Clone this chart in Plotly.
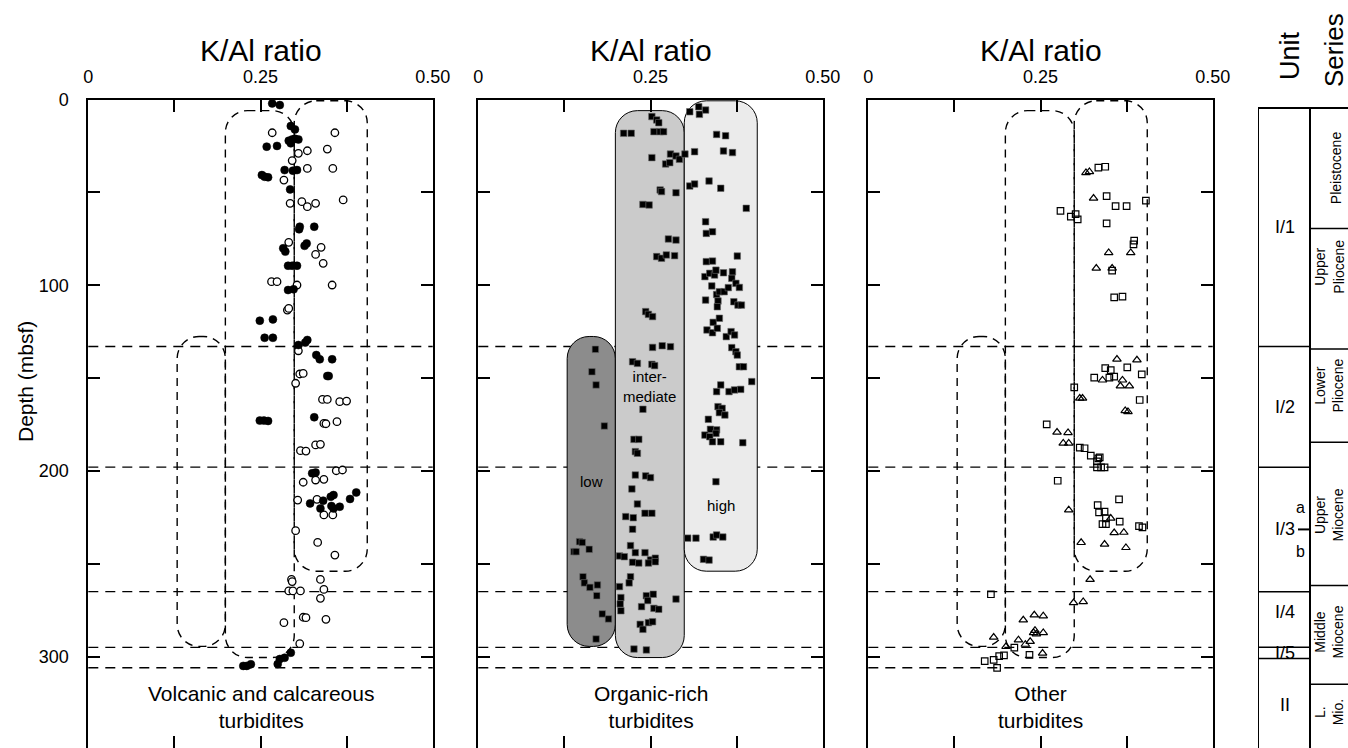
import plotly.graph_objects as go

# ---------------- data ----------------
# Volcanic and calcareous turbidites: K/Al ratio and depth (mbsf)
volc_dark_kal = [0.267, 0.278, 0.294, 0.300, 0.259, 0.274, 0.291, 0.296, 0.300, 0.305, 0.294,
                 0.252, 0.256, 0.261, 0.285, 0.297, 0.303, 0.293, 0.307, 0.306, 0.328, 0.283,
                 0.286, 0.317, 0.314, 0.290, 0.296, 0.303, 0.290, 0.298, 0.249, 0.268, 0.256,
                 0.268, 0.318, 0.315, 0.305, 0.331, 0.336, 0.354, 0.347, 0.349, 0.249, 0.255,
                 0.261, 0.328, 0.325, 0.330, 0.322, 0.337, 0.341, 0.352, 0.356, 0.353, 0.356,
                 0.365, 0.380, 0.389, 0.294, 0.285, 0.278, 0.275, 0.225, 0.230, 0.236]
volc_dark_depth = [2.1, 3.0, 14.3, 16.1, 25.4, 25.0, 22.2, 21.5, 21.1, 21.5, 23.6,
                   40.7, 41.6, 41.9, 38.0, 38.3, 38.0, 48.4, 68.5, 69.9, 68.5, 80.1,
                   81.9, 77.5, 78.8, 89.5, 89.5, 89.5, 102.6, 102.2, 119.1, 118.4, 128.3,
                   128.3, 129.5, 130.9, 132.2, 137.6, 139.9, 139.9, 148.9, 148.9, 172.9, 172.9,
                   173.1, 171.1, 201.3, 200.9, 217.5, 220.2, 216.0, 213.9, 213.0, 218.9, 220.2,
                   219.3, 215.1, 211.6, 297.9, 300.6, 301.3, 304.0, 305.0, 305.0, 304.1]

volc_light_kal = [0.267, 0.358, 0.318, 0.347, 0.305, 0.296, 0.318, 0.355, 0.284, 0.370, 0.293,
                  0.310, 0.318, 0.330, 0.291, 0.338, 0.330, 0.341, 0.266, 0.274, 0.303, 0.354,
                  0.289, 0.291, 0.305, 0.307, 0.312, 0.301, 0.340, 0.347, 0.365, 0.375, 0.361,
                  0.342, 0.345, 0.308, 0.316, 0.330, 0.337, 0.360, 0.369, 0.312, 0.330, 0.342,
                  0.304, 0.332, 0.342, 0.355, 0.301, 0.333, 0.358, 0.295, 0.296, 0.291, 0.297,
                  0.308, 0.337, 0.342, 0.337, 0.284, 0.312, 0.316, 0.345, 0.307]
volc_light_depth = [17.9, 17.9, 27.6, 26.7, 29.0, 32.9, 37.1, 37.1, 43.4, 54.1, 55.9,
                    55.0, 57.7, 55.9, 76.9, 79.6, 83.4, 88.2, 98.1, 98.1, 99.9, 99.9,
                    113.4, 112.5, 135.3, 147.8, 147.5, 152.8, 161.5, 161.5, 162.7, 162.4, 173.5,
                    174.4, 174.6, 189.1, 189.3, 186.0, 185.7, 199.9, 199.5, 206.1, 204.9, 204.5,
                    215.7, 215.3, 223.7, 223.7, 232.2, 238.5, 245.3, 258.4, 259.6, 264.6, 264.6,
                    264.6, 258.4, 263.8, 268.6, 281.7, 278.8, 279.0, 279.9, 293.0]

# Organic-rich turbidites
org_kal = [0.252, 0.259, 0.262, 0.307, 0.320, 0.330, 0.321, 0.211, 0.222, 0.255, 0.264, 0.269,
           0.346, 0.359, 0.252, 0.279, 0.287, 0.272, 0.278, 0.292, 0.300, 0.314, 0.356, 0.369,
           0.264, 0.266, 0.287, 0.307, 0.314, 0.335, 0.352, 0.239, 0.248, 0.389, 0.330, 0.331,
           0.340, 0.276, 0.287, 0.259, 0.266, 0.273, 0.285, 0.376, 0.331, 0.340, 0.329, 0.336,
           0.343, 0.345, 0.356, 0.369, 0.368, 0.374, 0.379, 0.339, 0.346, 0.350, 0.357, 0.363,
           0.330, 0.348, 0.347, 0.371, 0.377, 0.382, 0.243, 0.247, 0.253, 0.341, 0.350, 0.332,
           0.340, 0.347, 0.360, 0.367, 0.372, 0.253, 0.267, 0.279, 0.368, 0.374, 0.376, 0.379,
           0.385, 0.170, 0.224, 0.231, 0.252, 0.256, 0.165, 0.171, 0.346, 0.352, 0.364, 0.372,
           0.381, 0.397, 0.239, 0.183, 0.226, 0.233, 0.228, 0.231, 0.348, 0.354, 0.350, 0.358,
           0.334, 0.346, 0.337, 0.345, 0.329, 0.336, 0.340, 0.352, 0.384, 0.228, 0.243, 0.250,
           0.223, 0.345, 0.231, 0.214, 0.225, 0.242, 0.252, 0.224, 0.221, 0.228, 0.242, 0.250,
           0.257, 0.257, 0.224, 0.233, 0.247, 0.205, 0.212, 0.147, 0.151, 0.139, 0.142, 0.161,
           0.304, 0.316, 0.341, 0.346, 0.355, 0.327, 0.335, 0.152, 0.154, 0.162, 0.173, 0.172,
           0.221, 0.219, 0.205, 0.207, 0.206, 0.207, 0.244, 0.254, 0.246, 0.237, 0.255, 0.262,
           0.287, 0.180, 0.189, 0.235, 0.239, 0.247, 0.253, 0.171, 0.226, 0.244]
org_depth = [9.2, 11.0, 12.5, 6.6, 3.9, 5.7, 8.0, 18.2, 18.2, 17.3, 17.3, 17.3,
             18.8, 19.5, 31.3, 29.4, 30.4, 34.7, 34.0, 32.2, 29.4, 28.1, 27.7, 28.6,
             48.7, 49.6, 50.2, 46.6, 45.5, 43.9, 47.8, 56.5, 56.8, 58.6, 65.8, 72.1,
             71.2, 75.1, 75.7, 84.6, 85.5, 83.7, 84.1, 84.3, 87.3, 87.0, 95.4, 93.6,
             94.5, 91.9, 93.3, 92.8, 96.3, 99.0, 101.2, 100.4, 105.0, 103.5, 103.5, 101.3,
             108.0, 108.5, 111.6, 108.9, 110.7, 110.7, 114.2, 115.7, 116.9, 120.0, 117.8, 124.1,
             125.6, 123.2, 127.7, 125.0, 126.8, 133.5, 132.6, 133.1, 133.6, 135.8, 137.6, 143.9,
             143.9, 134.5, 141.2, 142.1, 142.6, 143.3, 146.6, 153.7, 157.3, 153.7, 157.3, 156.4,
             156.1, 151.9, 166.8, 175.8, 183.0, 183.0, 189.6, 190.5, 165.4, 166.3, 168.6, 169.9,
             172.2, 177.9, 177.6, 179.8, 180.7, 181.6, 184.3, 184.3, 184.8, 202.2, 202.7, 203.6,
             209.7, 205.8, 217.8, 224.6, 225.2, 222.8, 222.8, 231.4, 240.2, 244.0, 244.0, 247.9,
             247.0, 248.9, 249.2, 249.6, 249.6, 245.8, 246.2, 238.1, 238.5, 243.5, 243.5, 242.2,
             236.2, 236.2, 235.6, 234.5, 235.6, 247.6, 248.0, 257.0, 260.3, 262.7, 261.4, 267.2,
             257.0, 260.3, 262.3, 268.2, 271.6, 275.3, 267.2, 266.4, 269.8, 273.1, 274.0, 274.5,
             269.0, 277.0, 279.7, 282.6, 285.3, 281.7, 281.2, 290.5, 295.9, 296.4]

# Other turbidites (two sample types)
other_sq_kal = [0.334, 0.344, 0.346, 0.359, 0.375, 0.403, 0.279, 0.294, 0.301, 0.304, 0.346,
                0.386, 0.385, 0.354, 0.357, 0.369, 0.376, 0.344, 0.352, 0.357, 0.328, 0.350,
                0.397, 0.299, 0.394, 0.259, 0.307, 0.314, 0.323, 0.334, 0.336, 0.332, 0.332,
                0.338, 0.343, 0.275, 0.364, 0.333, 0.335, 0.343, 0.345, 0.340, 0.345, 0.365,
                0.393, 0.398, 0.178, 0.212, 0.234, 0.190, 0.197, 0.182, 0.169, 0.187]
other_sq_depth = [36.7, 36.2, 52.0, 57.4, 57.4, 54.5, 60.0, 63.1, 61.7, 64.5, 66.7,
                  76.0, 78.0, 92.1, 106.5, 106.2, 144.2, 144.7, 145.7, 149.2, 149.8, 149.8,
                  148.0, 155.0, 161.8, 174.9, 187.5, 187.8, 191.8, 193.2, 192.7, 194.9, 198.1,
                  198.1, 198.1, 205.3, 215.3, 218.4, 222.3, 221.9, 225.6, 228.6, 228.6, 227.3,
                  229.7, 230.4, 266.4, 295.2, 299.1, 299.7, 299.3, 301.8, 302.4, 306.1]
other_tri_kal = [0.316, 0.321, 0.327, 0.349, 0.381, 0.331, 0.354, 0.361, 0.390, 0.340, 0.369,
                 0.366, 0.379, 0.307, 0.311, 0.373, 0.377, 0.274, 0.290, 0.283, 0.291, 0.291,
                 0.352, 0.357, 0.371, 0.309, 0.343, 0.374, 0.322, 0.298, 0.312, 0.225, 0.241,
                 0.254, 0.242, 0.244, 0.254, 0.240, 0.218, 0.228, 0.235, 0.182, 0.200, 0.253]
other_tri_depth = [39.4, 38.9, 53.2, 82.5, 82.5, 90.9, 90.9, 139.9, 140.3, 151.1, 151.1,
                   154.3, 154.3, 160.9, 160.9, 167.6, 168.1, 179.2, 179.4, 185.1, 185.1, 221.0,
                   225.5, 233.3, 233.1, 238.6, 239.5, 241.3, 258.5, 271.0, 270.4, 280.3, 277.6,
                   278.1, 285.9, 287.8, 287.1, 287.1, 291.0, 293.4, 291.9, 289.6, 294.6, 298.2]

# K/Al groupings: [K/Al from, K/Al to, depth top, depth bottom]
group_low = [0.129, 0.199, 127.6, 294.5]
group_intermediate = [0.199, 0.299, 6.0, 300.5]
group_high = [0.299, 0.405, 0.7, 254.0]

# Lithostratigraphic boundaries (mbsf)
boundary_depths = [133, 198, 265, 295, 306]
unit_top = 4.6
unit_edges = [133, 198, 265, 295, 301]
unit_names = ["I/1", "I/2", "I/3", "I/4", "I/5", "II"]
unit_label_depths = [68.8, 165.5, 231.5, 276.0, 298.0, 326.0]
subunit_split = 231.5
series_edges = [69.5, 134.4, 184.6, 261.7, 314.9]
series_names = ["Pleistocene", "Upper<br>Pliocene", "Lower<br>Pliocene",
                "Upper<br>Miocene", "Middle<br>Miocene", "L.<br>Mio."]
series_label_depths = [37, 90, 154, 224, 287, 330]

panel_titles = ["K/Al ratio", "K/Al ratio", "K/Al ratio"]
panel_captions = ["Volcanic and calcareous<br>turbidites",
                  "Organic-rich<br>turbidites",
                  "Other<br>turbidites"]

kal_ticks = [0, 0.125, 0.25, 0.375, 0.5]
kal_ticktext = ["0", "", "0.25", "", "0.50"]
depth_ticks = [0, 50, 100, 150, 200, 250, 300, 350]
depth_ticktext = ["0", "", "100", "", "200", "", "300", ""]

# ---------------- layout geometry ----------------
W, H = 1348, 748
FONT = "Liberation Sans, Arial, Helvetica, sans-serif"
PLOT_TOP = 99.5
DEPTH_RANGE = [349.2, 0]
KAL_RANGE = [0, 0.5]
PANEL_LEFT = [88.3, 478.3, 868.3]
PANEL_W = 344.4
COL_LEFT = 1258


def fx(px):
    return px / W


def fy(py):
    return 1 - py / H


y_dom = [0, fy(PLOT_TOP)]
px_per_kal = PANEL_W / (KAL_RANGE[1] - KAL_RANGE[0])
px_per_m = (H - PLOT_TOP) / (DEPTH_RANGE[0] - DEPTH_RANGE[1])


def rounded_path(x0, x1, y0, y1, r_px=22):
    """Rounded rectangle in data units (x: K/Al, y: depth)."""
    r_px = min(r_px, (x1 - x0) * px_per_kal / 2)
    rx = r_px / px_per_kal
    ry = r_px / px_per_m
    k = 0.5523
    p = [f"M {x0 + rx},{y0}", f"L {x1 - rx},{y0}",
         f"C {x1 - rx + k * rx},{y0} {x1},{y0 + ry - k * ry} {x1},{y0 + ry}",
         f"L {x1},{y1 - ry}",
         f"C {x1},{y1 - ry + k * ry} {x1 - rx + k * rx},{y1} {x1 - rx},{y1}",
         f"L {x0 + rx},{y1}",
         f"C {x0 + rx - k * rx},{y1} {x0},{y1 - ry + k * ry} {x0},{y1 - ry}",
         f"L {x0},{y0 + ry}",
         f"C {x0},{y0 + ry - k * ry} {x0 + rx - k * rx},{y0} {x0 + rx},{y0}", "Z"]
    return " ".join(p)


fig = go.Figure()
layout = dict(width=W, height=H,
              margin=dict(l=0, r=0, t=0, b=0, pad=0, autoexpand=False),
              paper_bgcolor="white", plot_bgcolor="white", showlegend=False,
              font=dict(family=FONT, color="black"))

shapes = []
annotations = []

for i in range(3):
    n = "" if i == 0 else str(i + 1)
    xname, yname = "x" + n, "y" + n
    bottom_id = str(i + 4)
    layout["xaxis" + n] = dict(
        domain=[fx(PANEL_LEFT[i]), fx(PANEL_LEFT[i] + PANEL_W)], range=KAL_RANGE,
        side="top", anchor=yname, tickmode="array", tickvals=kal_ticks,
        ticktext=kal_ticktext, ticks="inside", ticklen=12, tickwidth=2,
        tickcolor="black", showline=True, linewidth=2, linecolor="black",
        showgrid=False, zeroline=False, ticklabelstandoff=7, automargin=False,
        tickfont=dict(size=18, color="black", family=FONT))
    layout["xaxis" + bottom_id] = dict(
        overlaying=xname, anchor=yname, side="bottom", range=KAL_RANGE,
        tickmode="array", tickvals=kal_ticks[1:-1], ticks="inside", ticklen=12,
        tickwidth=2, tickcolor="black", showticklabels=False, showline=False,
        showgrid=False, zeroline=False, automargin=False)
    layout["yaxis" + n] = dict(
        domain=y_dom, range=DEPTH_RANGE, anchor=xname, tickmode="array",
        tickvals=depth_ticks, ticktext=depth_ticktext, ticks="inside", ticklen=12,
        tickwidth=2, tickcolor="black", showline=True, mirror="ticks", linewidth=2,
        linecolor="black", showgrid=False, zeroline=False, automargin=False,
        showticklabels=(i == 0), ticklabelstandoff=14,
        tickfont=dict(size=18, color="black", family=FONT))
    fig.add_trace(go.Scatter(x=[None], y=[None], xaxis="x" + bottom_id, yaxis=yname,
                             hoverinfo="skip"))

    def hline(d, layer="below"):
        return dict(type="line", xref=xname + " domain", yref=yname, x0=0, x1=1,
                    y0=d, y1=d, layer=layer,
                    line=dict(color="black", width=1.3, dash="10px,7px"))

    if i == 1:
        # deeper boundaries sit beneath the grouping fields
        for d in boundary_depths[2:]:
            shapes.append(hline(d))
        fills = ["#8c8c8c", "#cbcbcb", "#ebebeb"]
        for g, c in zip([group_low, group_intermediate, group_high], fills):
            shapes.append(dict(type="path", xref=xname, yref=yname, layer="below",
                               path=rounded_path(*g), fillcolor=c,
                               line=dict(color="black", width=1)))
        for d in boundary_depths[:2]:
            shapes.append(hline(d))
    else:
        for d in boundary_depths:
            shapes.append(hline(d))
        for g in [group_low, group_intermediate, group_high]:
            shapes.append(dict(type="path", xref=xname, yref=yname, layer="below",
                               path=rounded_path(*g), fillcolor="rgba(0,0,0,0)",
                               line=dict(color="black", width=1.4, dash="8px,6px")))

    # panel title and caption
    annotations.append(dict(text=panel_titles[i], xref=xname + " domain", x=0.5,
                            yref="paper", y=fy(51), xanchor="center", yanchor="middle",
                            showarrow=False, font=dict(size=30, family=FONT)))
    annotations.append(dict(text=panel_captions[i], xref=xname + " domain", x=0.5,
                            yref="paper", y=fy(707), xanchor="center", yanchor="middle",
                            showarrow=False, font=dict(size=21, family=FONT)))

# ---------------- markers ----------------
fig.add_trace(go.Scatter(x=volc_light_kal, y=volc_light_depth, mode="markers",
                         xaxis="x", yaxis="y",
                         marker=dict(symbol="circle", size=7.5, color="white",
                                     line=dict(color="black", width=1.3))))
fig.add_trace(go.Scatter(x=volc_dark_kal, y=volc_dark_depth, mode="markers",
                         xaxis="x", yaxis="y",
                         marker=dict(symbol="circle", size=8, color="black",
                                     line=dict(color="black", width=0.5))))
fig.add_trace(go.Scatter(x=org_kal, y=org_depth, mode="markers", xaxis="x2", yaxis="y2",
                         marker=dict(symbol="square", size=6.5, color="black",
                                     line=dict(color="#666666", width=0.6))))
fig.add_trace(go.Scatter(x=other_sq_kal, y=other_sq_depth, mode="markers",
                         xaxis="x3", yaxis="y3",
                         marker=dict(symbol="square-open", size=6.5, color="black",
                                     line=dict(color="black", width=1.2))))
fig.add_trace(go.Scatter(x=other_tri_kal, y=other_tri_depth, mode="markers",
                         xaxis="x3", yaxis="y3",
                         marker=dict(symbol="triangle-up-open", size=7.5, color="black",
                                     line=dict(color="black", width=1.2))))

# group names in the organic-rich panel
for txt, xv, py in [("inter-<br>mediate", 0.248, 387),
                    ("low", 0.164, 481), ("high", 0.352, 505)]:
    annotations.append(dict(text=txt, xref="x2", x=xv, yref="paper", y=fy(py),
                            xanchor="center", yanchor="middle", showarrow=False,
                            font=dict(size=15, family=FONT)))

# depth axis title
annotations.append(dict(text="Depth (mbsf)", xref="paper", x=fx(25), yref="paper",
                        y=fy(382), textangle=-90, xanchor="center", yanchor="middle",
                        showarrow=False, font=dict(size=21, family=FONT)))

# ---------------- unit / series column ----------------
layout["xaxis7"] = dict(domain=[fx(COL_LEFT), 1], range=[0, W - COL_LEFT], anchor="y4",
                        visible=False, showgrid=False, zeroline=False, automargin=False)
layout["yaxis4"] = dict(domain=y_dom, range=DEPTH_RANGE, anchor="x7", visible=False,
                        showgrid=False, zeroline=False, automargin=False)
fig.add_trace(go.Scatter(x=[None], y=[None], xaxis="x7", yaxis="y4", hoverinfo="skip"))

DIV = 52
col_line = dict(color="black", width=2)
shapes += [
    dict(type="line", xref="x7", yref="y4", x0=0, x1=0, y0=unit_top, y1=400, line=col_line),
    dict(type="line", xref="x7", yref="y4", x0=DIV, x1=DIV, y0=unit_top, y1=400, line=col_line),
    dict(type="line", xref="x7", yref="y4", x0=0, x1=200, y0=unit_top, y1=unit_top,
         line=col_line),
    dict(type="line", xref="x7", yref="y4", x0=DIV - 12, x1=DIV, y0=subunit_split,
         y1=subunit_split, line=col_line),
]
for d in unit_edges:
    shapes.append(dict(type="line", xref="x7", yref="y4", x0=0, x1=DIV, y0=d, y1=d,
                       line=dict(color="black", width=1.5)))
for d in series_edges:
    shapes.append(dict(type="line", xref="x7", yref="y4", x0=DIV, x1=200, y0=d, y1=d,
                       line=dict(color="black", width=1.5)))

for name, d in zip(unit_names, unit_label_depths):
    annotations.append(dict(text=name, xref="x7", x=27, yref="y4", y=d,
                            xanchor="center", yanchor="middle", showarrow=False,
                            font=dict(size=18, family=FONT)))
annotations.append(dict(text="a", xref="x7", x=42, yref="y4", y=subunit_split - 12,
                        xanchor="center", yanchor="middle", showarrow=False,
                        font=dict(size=16, family=FONT)))
annotations.append(dict(text="b", xref="x7", x=42, yref="y4", y=subunit_split + 12,
                        xanchor="center", yanchor="middle", showarrow=False,
                        font=dict(size=16, family=FONT)))
for name, d in zip(series_names, series_label_depths):
    xs = 71 if "<br>" in name else 78
    annotations.append(dict(text=name, xref="x7", x=xs, yref="y4", y=d, textangle=-90,
                            xanchor="center", yanchor="middle", showarrow=False,
                            font=dict(size=14, family=FONT)))

annotations.append(dict(text="Unit", xref="x7", x=32, yref="paper", y=fy(56),
                        textangle=-90, xanchor="center", yanchor="middle",
                        showarrow=False, font=dict(size=27, family=FONT)))
annotations.append(dict(text="Series", xref="x7", x=76, yref="paper", y=fy(50),
                        textangle=-90, xanchor="center", yanchor="middle",
                        showarrow=False, font=dict(size=26, family=FONT)))

layout["shapes"] = shapes
layout["annotations"] = annotations
fig.update_layout(**layout)

fig.write_html("out.html")
